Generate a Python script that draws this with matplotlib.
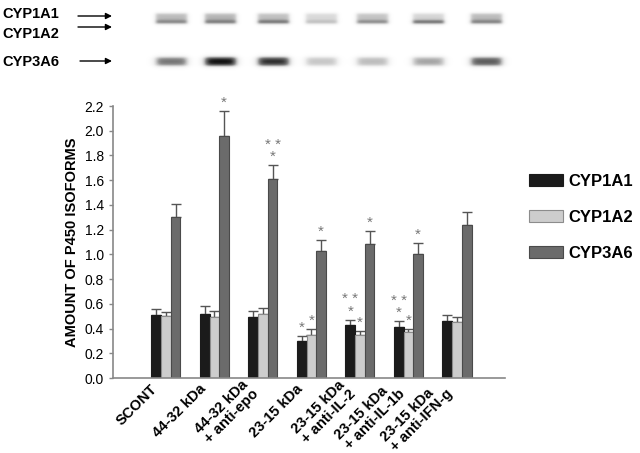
import numpy as np
import matplotlib
matplotlib.use('Agg')
import matplotlib.pyplot as plt
from matplotlib.transforms import ScaledTranslation

plt.rcParams['font.family'] = ['Liberation Sans', 'DejaVu Sans']

groups = ['SCONT', '44-32 kDa', '44-32 kDa\n+ anti-epo', '23-15 kDa',
          '23-15 kDa\n+ anti-IL-2', '23-15 kDa\n+ anti-IL-1b', '23-15 kDa\n+ anti-IFN-g']
cyp1a1 = [0.51, 0.52, 0.49, 0.30, 0.43, 0.41, 0.46]
cyp1a1_err = [0.05, 0.06, 0.05, 0.04, 0.04, 0.05, 0.05]
cyp1a2 = [0.50, 0.49, 0.52, 0.35, 0.35, 0.37, 0.45]
cyp1a2_err = [0.03, 0.05, 0.05, 0.05, 0.03, 0.03, 0.04]
cyp3a6 = [1.30, 1.96, 1.61, 1.03, 1.08, 1.00, 1.24]
cyp3a6_err = [0.11, 0.20, 0.11, 0.09, 0.11, 0.09, 0.10]
cyp1a1_sig = ['', '', '', '*', '* *\n*', '* *\n*', '']
cyp1a2_sig = ['', '', '', '*', '*', '*', '']
cyp3a6_sig = ['', '*', '* *\n*', '*', '*', '*', '']

# western blot band darkness per lane
blot_1a1 = [0.40, 0.42, 0.38, 0.26, 0.36, 0.28, 0.40]
blot_1a2 = [0.22, 0.24, 0.30, 0.14, 0.24, 0.42, 0.24]
blot_3a6 = [0.65, 1.00, 0.90, 0.35, 0.40, 0.48, 0.75]
lane_x = [171, 220, 273, 321, 372, 428, 486]

fig = plt.figure(figsize=(6.4, 4.53), dpi=100)

# --- blot image ---
H, W = 90, 640
yy, xx = np.mgrid[0:H, 0:W]
img = np.zeros((H, W))
for cx, a, b, c in zip(lane_x, blot_1a1, blot_1a2, blot_3a6):
    lane = 1 / (1 + np.exp((np.abs(xx - cx) - 16) / 1.2))
    img += lane * a / (1 + np.exp((np.abs(yy - 18) - 5.2) / 0.8))
    img += lane * b / (1 + np.exp((np.abs(yy - 21.5) - 1.8) / 0.8))
    lane3 = 1 / (1 + np.exp((np.abs(xx - cx) - 15.5) / 2.0))
    img += lane3 * c / (1 + np.exp((np.abs(yy - 61) - 4.2) / 1.0))
img = np.clip(img, 0, 1)
bax = fig.add_axes([0, 1 - H / 453, 1, H / 453])
bax.imshow(img, cmap='Greys', vmin=0, vmax=1.05, aspect='auto',
           extent=(0, W, H, 0), interpolation='bilinear')
bax.set_xlim(0, W)
bax.set_ylim(H, 0)
bax.axis('off')
for label, ty in [('CYP1A1', 14), ('CYP1A2', 34), ('CYP3A6', 62)]:
    bax.text(2, ty, label, fontsize=10.5, fontweight='bold', va='center', ha='left')
for ay, x0 in [(16, 78), (27, 78), (61, 80)]:
    bax.annotate('', xy=(112, ay), xytext=(x0, ay),
                 arrowprops=dict(arrowstyle='-|>', color='black', lw=1,
                                 mutation_scale=9, shrinkA=0, shrinkB=0))

# --- bar chart ---
ax = fig.add_axes([113 / 640, 1 - 378 / 453, (505 - 113) / 640, (378 - 106) / 453])
x = np.arange(len(groups))
w = 0.2
styles = [
    (cyp1a1, cyp1a1_err, cyp1a1_sig, '#1b1b1b', '#1b1b1b', 'CYP1A1', -w),
    (cyp1a2, cyp1a2_err, cyp1a2_sig, '#cdcdcd', '#8c8c8c', 'CYP1A2', 0),
    (cyp3a6, cyp3a6_err, cyp3a6_sig, '#6b6b6b', '#4a4a4a', 'CYP3A6', w),
]
handles = []
for vals, errs, sig, fc, ec, lab, off in styles:
    b = ax.bar(x + off, vals, w, color=fc, edgecolor=ec, linewidth=0.8, label=lab, zorder=2)
    handles.append(b)
    ax.errorbar(x + off, vals, yerr=[np.zeros(len(vals)), errs], fmt='none',
                ecolor='#555555', elinewidth=1, capsize=3.5, capthick=1, zorder=1)
    for xi, v, e, s in zip(x + off, vals, errs, sig):
        if s:
            ax.text(xi, v + e + 0.01, s, ha='center', va='bottom', fontsize=11,
                    color='#777777', linespacing=0.85)

ax.set_xlim(-1.09, 6.99)
ax.set_ylim(0, 2.2)
ax.set_yticks(np.arange(0, 2.21, 0.2))
ax.set_yticklabels(['%.1f' % v for v in np.arange(0, 2.21, 0.2)], fontsize=10)
ax.set_xticks(x)
ax.set_xticklabels([])
shift = ScaledTranslation(-11 / 100, -9 / 100, fig.dpi_scale_trans)
for xi, g in zip(x, groups):
    ax.text(xi, 0, g, transform=ax.get_xaxis_transform() + shift, rotation=45,
            ha='right', va='center', rotation_mode='anchor', fontsize=10.5,
            fontweight='bold', multialignment='left', linespacing=1.0)
ax.tick_params(axis='x', length=0)
ax.tick_params(axis='y', length=3, color='#888888', width=1)
for sp in ['top', 'right']:
    ax.spines[sp].set_visible(False)
for sp in ['left', 'bottom']:
    ax.spines[sp].set_color('#888888')
    ax.spines[sp].set_linewidth(1.2)
ax.set_ylabel('AMOUNT OF P450 ISOFORMS', fontsize=10.5, fontweight='bold', labelpad=4)

fig.legend(handles=handles, loc='upper left', bbox_to_anchor=(514 / 640, 1 - 159 / 453),
           frameon=False, prop=dict(size=12, weight='bold'), handlelength=2.05,
           handleheight=0.75, labelspacing=1.25, handletextpad=0.3)

fig.savefig('out.png', dpi=100)
